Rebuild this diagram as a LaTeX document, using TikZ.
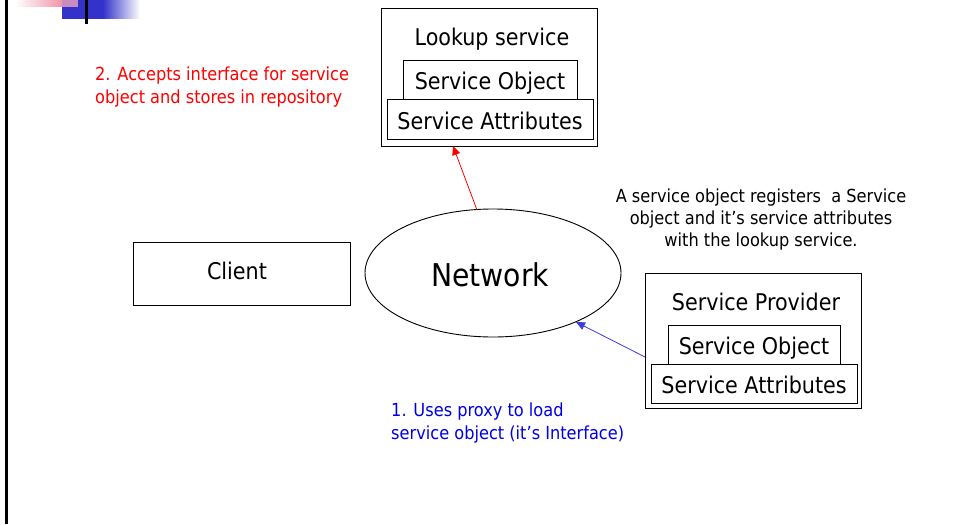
\documentclass[tikz,border=0pt]{standalone}
\usepackage{fontspec}
\setmainfont{DejaVu Sans Condensed}
\usetikzlibrary{arrows.meta,shapes.geometric}
\definecolor{slideblue}{RGB}{51,51,204}
\definecolor{slidepink}{RGB}{240,150,170}
\definecolor{slidemix}{RGB}{200,140,190}
\definecolor{arrowblue}{RGB}{60,60,220}
\definecolor{textblue}{RGB}{0,0,230}
\begin{document}
\begin{tikzpicture}[x=1pt,y=-1pt,
  box/.style={draw,line width=1pt,inner sep=0pt},
  boxtext/.style={inner sep=0pt,font=\fontsize{23}{26}\selectfont},
  note/.style={inner sep=0pt,font=\fontsize{18}{22.5}\selectfont},
  arr/.style={-{Triangle[length=9pt,width=8pt]},line width=0.8pt}]
\useasboundingbox (0,0) rectangle (957,524);
% slide decoration
\shade[left color=white,right color=slidepink] (15,0) rectangle (62,7);
\fill[slideblue] (62,0) rectangle (103,19);
\shade[left color=slideblue,right color=white] (103,0) rectangle (140,19);
\fill[slidemix] (62,0) rectangle (78,7);
\fill[black] (85,0) rectangle (88,24);
\fill[black] (5,0) rectangle (7.5,524);
% lookup service
\node[box,minimum width=216,minimum height=137] (lookup) at (489,77.5) {};
\node[boxtext] (lookuptxt) at (492,39) {Lookup service};
\node[box,minimum width=174,minimum height=39] (lso) at (490,80.5) {};
\node[boxtext] (lsotxt) at (490,83) {Service Object};
\node[box,fill=white,minimum width=206,minimum height=39] (lsa) at (490,119.5) {};
\node[boxtext] (lsatxt) at (490,121) {Service Attributes};
% client
\node[box,minimum width=217,minimum height=63] (client) at (241.5,273.5) {};
\node[boxtext] (clienttxt) at (237,271) {Client};
% network
\node[draw,ellipse,line width=0.9pt,inner sep=0pt,minimum width=256,minimum height=128] (net) at (493,273) {};
\node[inner sep=0pt,font=\fontsize{31.4}{34}\selectfont] (nettxt) at (490,275) {Network};
% service provider
\node[box,minimum width=216,minimum height=135] (prov) at (753,340.5) {};
\node[boxtext] (provtxt) at (756,302) {Service Provider};
\node[box,minimum width=172,minimum height=39] (pso) at (754,344.5) {};
\node[boxtext] (psotxt) at (754,348) {Service Object};
\node[box,fill=white,minimum width=206,minimum height=39] (psa) at (754,383.5) {};
\node[boxtext] (psatxt) at (754,385) {Service Attributes};
% arrows
\coordinate (redstart) at (477,210);
\coordinate (redend) at (453,146);
\draw[arr,red] (redstart) -- (redend);
\coordinate (bluestart) at (645,357);
\coordinate (blueend) at (576,322);
\draw[arr,arrowblue] (bluestart) -- (blueend);
% notes
\node[note,text=red,align=left,anchor=north west] (rednote) at (95,67) {2. Accepts interface for service\\object and stores in repository};
\node[note,text=textblue,align=left,anchor=north west] (bluenote) at (391,403) {1. Uses proxy to load\\service object (it’s Interface)};
\node[note,align=center,font=\fontsize{18}{22}\selectfont] (regnote) at (761,220) {A service object registers\ \ a Service\\object and it’s service attributes\\with the lookup service.};
\end{tikzpicture}
\end{document}
